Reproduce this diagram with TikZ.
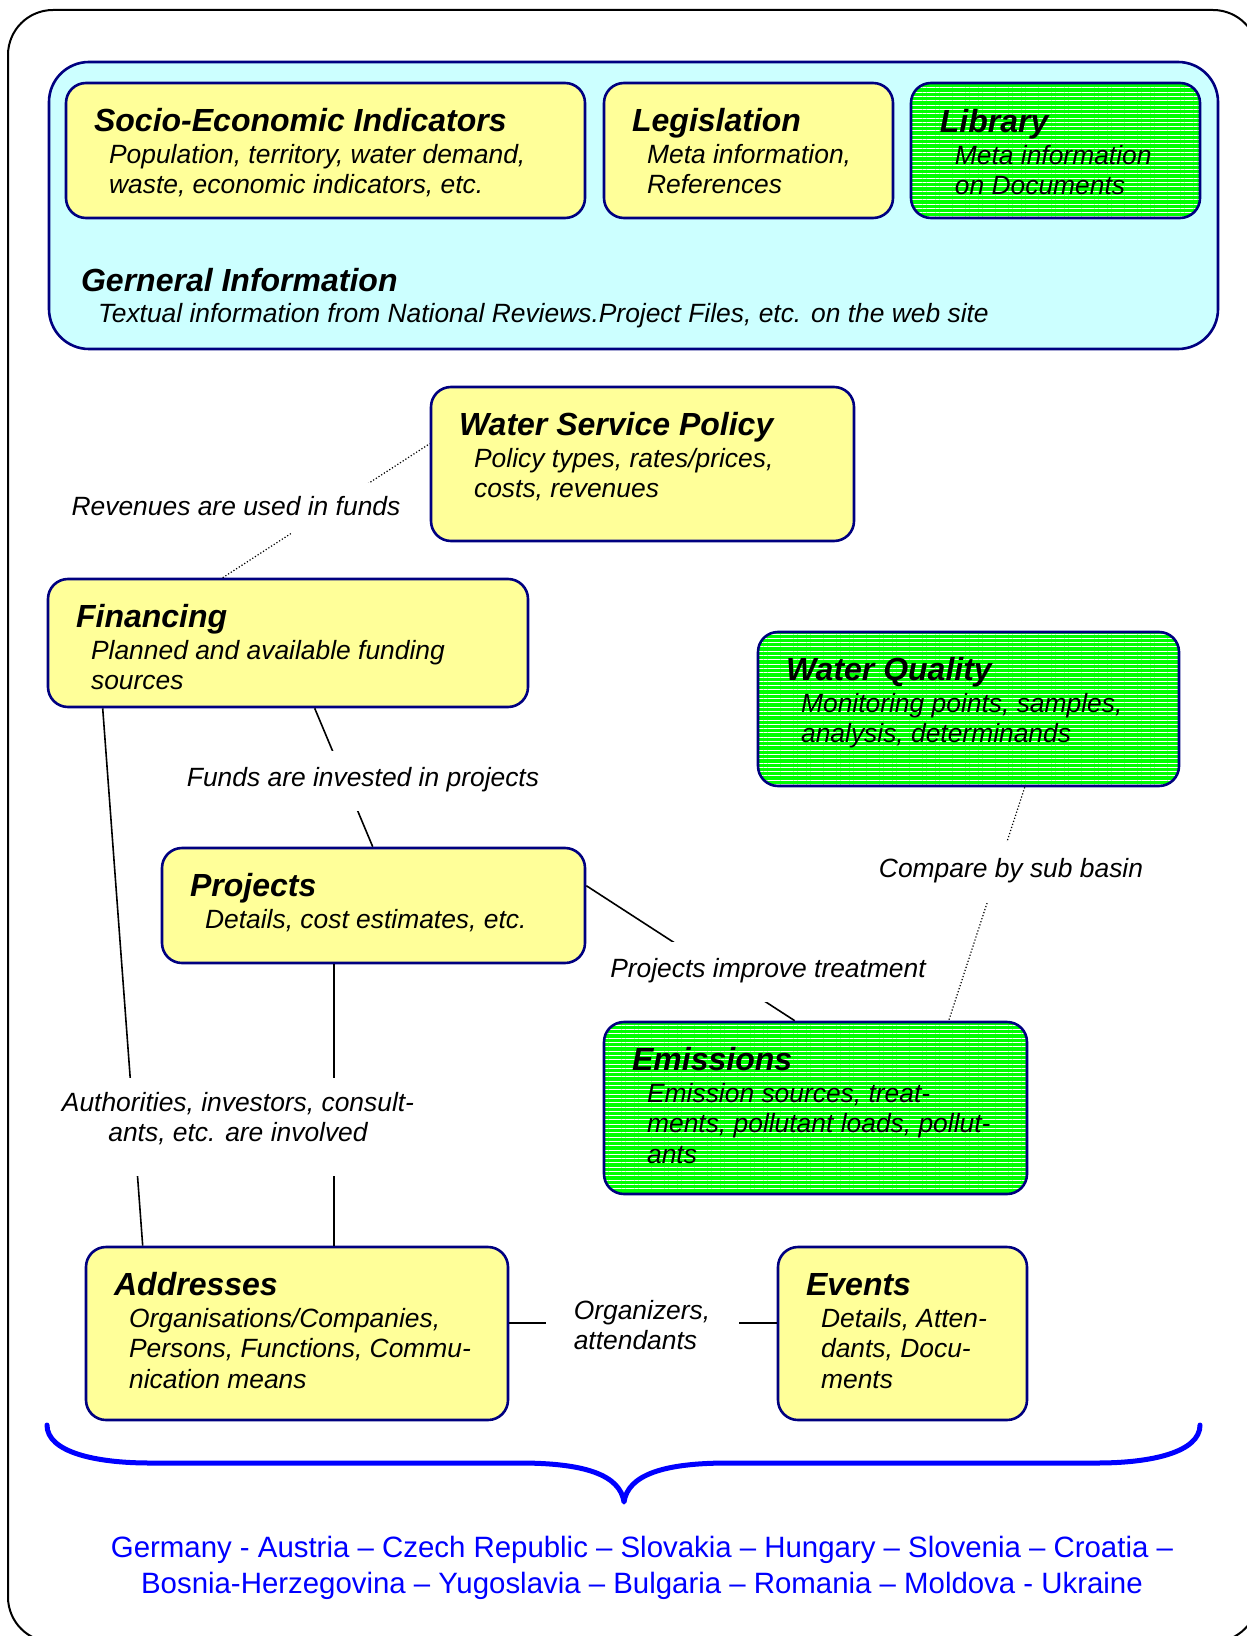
\documentclass[tikz,border=0pt]{standalone}
\usepackage{fontspec}
\setmainfont{Liberation Sans}
\usetikzlibrary{fit,patterns.meta}
\definecolor{navy}{HTML}{000080}
\definecolor{paleyellow}{HTML}{FFFF99}
\definecolor{palecyan}{HTML}{CCFFFF}
\definecolor{brightgreen}{HTML}{00FF00}
\definecolor{countryblue}{HTML}{0000FF}
\tikzstyle{infobg}=[draw=navy,line width=1.3pt,rounded corners=10pt,fill=#1,inner sep=0pt]
\tikzstyle{hatchbg}=[draw=navy,line width=1.3pt,rounded corners=10pt,inner sep=0pt,preaction={fill=brightgreen},pattern={Lines[angle=0,distance=2.15pt,line width=0.5pt]},pattern color=white]
\newcommand{\infobox}[5]{\node[#1,fit={#2}] (#3) {};
  \node[boxtitle] (#3-title) at ([shift={(29,50)}]#3.north west) {#4};
  \node[boxbody] (#3-body) at ([shift={(44,82)}]#3.north west) {\begin{tabular}[t]{@{}l@{}}#5\end{tabular}};}
\newcommand{\myedge}[3]{\draw[#1] (#2) -- (#3);}
\tikzset{
	boxtitle/.style={anchor=base west,inner sep=0pt,font=\fontsize{16}{18}\selectfont\bfseries\itshape},
	boxbody/.style={anchor=base west,inner sep=0pt,font=\fontsize{13.2}{15.1}\selectfont\itshape},
	linklabel/.style={fill=white,inner xsep=3pt,inner ysep=0pt,anchor=base,font=\fontsize{13.2}{15}\selectfont\itshape},
	solidlink/.style={line width=0.8pt},
	dotlink/.style={line width=0.6pt,densely dotted},
}

\begin{document}
\begin{tikzpicture}[x=0.5pt,y=-0.5pt]
    \useasboundingbox (0,0) rectangle (1246,1636);
    % outer frame
    \draw[line width=1pt,rounded corners=22.5pt] (8,10) rectangle (1258,1642);

    % general information with its three parts
    \node[infobg=palecyan,rounded corners=20pt,fit={(49,62) (1218,349)}] (gen) {};
    \node[boxtitle] (gen-title) at ([shift={(33,231)}]gen.north west) {Gerneral Information};
    \node[boxbody] (gen-body) at ([shift={(50,262)}]gen.north west) {Textual information from National Reviews.Project Files, etc. on the web site};
    \infobox{infobg=paleyellow}{(66,83) (585,218)}{socio}{Socio-Economic Indicators}{Population, territory, water demand,\\waste, economic indicators, etc.}
    \infobox{infobg=paleyellow}{(604,83) (893,218)}{legis}{Legislation}{Meta information,\\References}
    \infobox{hatchbg}{(911,83) (1200,218)}{lib}{Library}{Meta information\\on Documents}

    % thematic boxes
    \infobox{infobg=paleyellow}{(431,387) (854,541)}{wsp}{Water Service Policy}{Policy types, rates/prices,\\costs, revenues}
    \infobox{infobg=paleyellow}{(48,579) (528,707)}{fin}{Financing}{Planned and available funding\\sources}
    \infobox{hatchbg}{(758,632) (1179,786)}{wq}{Water Quality}{Monitoring points, samples,\\analysis, determinands}
    \infobox{infobg=paleyellow}{(162,848) (585,963)}{proj}{Projects}{Details, cost estimates, etc.}
    \infobox{hatchbg}{(604,1022) (1027,1194)}{emis}{Emissions}{Emission sources, treat-\\ments, pollutant loads, pollut-\\ants}
    \infobox{infobg=paleyellow}{(86,1247) (508,1420)}{addr}{Addresses}{Organisations/Companies,\\Persons, Functions, Commu-\\nication means}
    \infobox{infobg=paleyellow}{(778,1247) (1027,1420)}{evt}{Events}{Details, Atten-\\dants, Docu-\\ments}

    % relations
    \myedge{dotlink}{[shift={(176,0)}]fin.north west}{[shift={(0,58)}]wsp.north west}
    \myedge{solidlink}{[shift={(268,0)}]fin.south west}{[shift={(212,0)}]proj.north west}
    \myedge{solidlink}{[shift={(0,39)}]proj.north east}{[shift={(192,0)}]emis.north west}
    \myedge{dotlink}{[shift={(268,0)}]wq.south west}{[shift={(346,0)}]emis.north west}
    \myedge{solidlink}{[shift={(56,0)}]fin.south west}{[shift={(58,0)}]addr.north west}
    \myedge{solidlink}{[shift={(173,0)}]proj.south west}{[shift={(249,0)}]addr.north west}
    \myedge{solidlink}{[shift={(0,77)}]addr.north east}{[shift={(0,77)}]evt.north west}

    \node[linklabel,text height=16pt,text depth=9pt] (rev) at (236,515) {Revenues are used in funds};
    \node[linklabel,text height=17.5pt,text depth=12.5pt] (funds) at (363,786) {Funds are invested in projects};
    \node[linklabel,text height=17.5pt,text depth=12.5pt] (impr) at (768,977) {Projects improve treatment};
    \node[linklabel,text height=17.5pt,text depth=13pt] (cmp) at (1011,877) {Compare by sub basin};
    \node[linklabel,text height=16.5pt,text depth=32.5pt] (inv) at (238,1111) {\begin{tabular}[t]{@{}c@{}}Authorities, investors, consult-\\ants, etc. are involved\end{tabular}};
    \node[linklabel,inner xsep=0pt,inner ysep=2pt,minimum width=96.5pt] (org) at (642,1319) {\begin{tabular}[t]{@{}l@{}}Organizers,\\attendants\end{tabular}};

    % brace over the countries
    \draw[countryblue,line width=2.5pt,line cap=round,line join=round] (47,1425) .. controls (47,1452) and (95,1463) .. (150,1463) -- (520,1463) .. controls (585,1463) and (620,1475) .. (624,1502) .. controls (628,1475) and (663,1463) .. (728,1463) -- (1097,1463) .. controls (1152,1463) and (1200,1452) .. (1200,1425);
    \node[anchor=base,text=countryblue,inner sep=0pt,font=\fontsize{14.7}{18}\selectfont] (countries) at (642,1557) {\begin{tabular}[t]{@{}c@{}}Germany - Austria – Czech Republic – Slovakia – Hungary – Slovenia – Croatia –\\Bosnia-Herzegovina – Yugoslavia – Bulgaria – Romania – Moldova - Ukraine\end{tabular}};
\end{tikzpicture}
\end{document}
